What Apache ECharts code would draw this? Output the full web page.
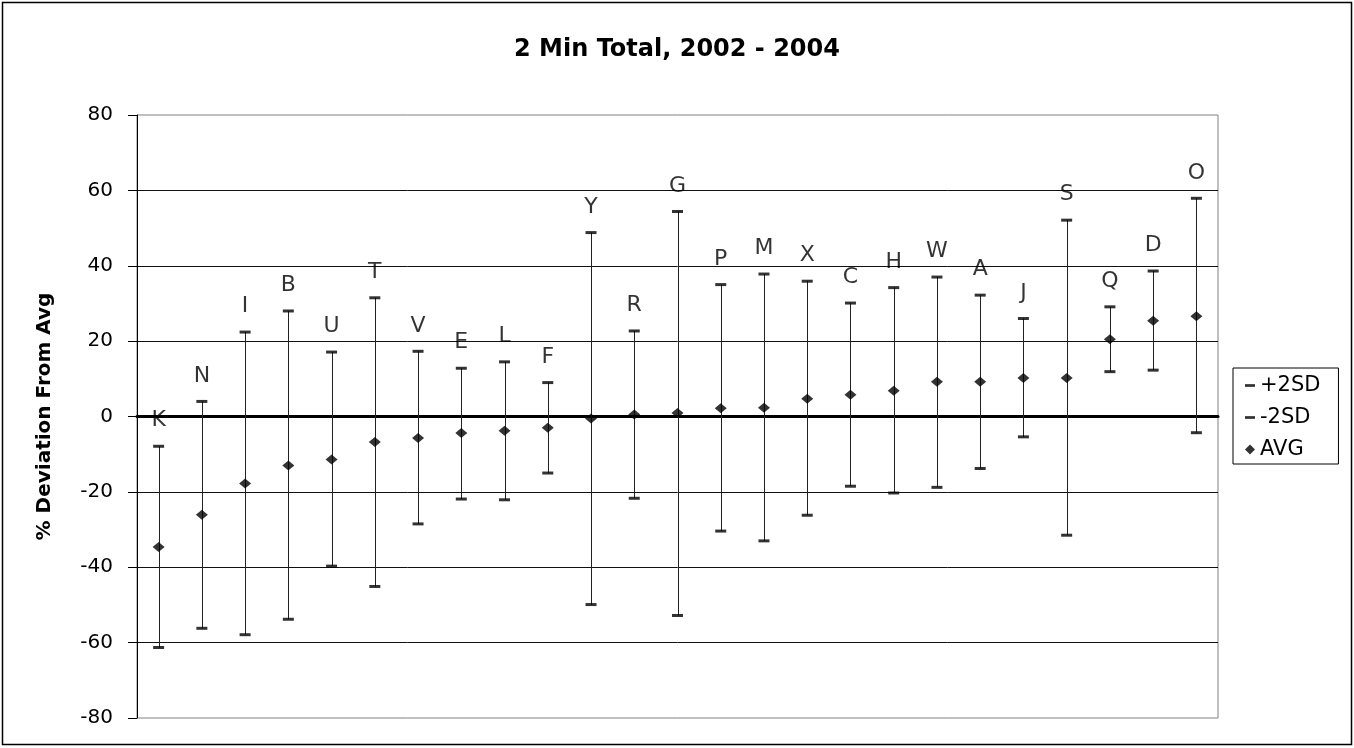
<!DOCTYPE html>
<html>
<head>
<meta charset="utf-8">
<script src="https://cdn.jsdelivr.net/npm/echarts@6/dist/echarts.min.js"></script>
<style>
html,body{margin:0;padding:0;background:#fff;}
#chart{width:1354px;height:748px;}
</style>
</head>
<body>
<div id="chart"></div>
<script>
const categories = ['K','N','I','B','U','T','V','E','L','F','Y','R','G','P','M','X','C','H','W','A','J','S','Q','D','O'];
const plus2SD = [-7.9, 4.0, 22.4, 28.0, 17.1, 31.5, 17.3, 12.8, 14.5, 9.0, 48.8, 22.7, 54.4, 35.0, 37.8, 35.9, 30.1, 34.2, 37.0, 32.2, 26.0, 52.1, 29.1, 38.6, 57.9];
const minus2SD = [-61.3, -56.2, -57.9, -53.8, -39.7, -45.1, -28.5, -21.9, -22.1, -15.0, -49.9, -21.7, -52.8, -30.4, -33.0, -26.2, -18.5, -20.3, -18.8, -13.8, -5.4, -31.5, 11.9, 12.3, -4.3];
const avgValues = [-34.6, -26.1, -17.8, -13.0, -11.4, -6.75, -5.7, -4.4, -3.8, -3.0, -0.5, 0.5, 0.9, 2.2, 2.3, 4.7, 5.8, 6.85, 9.2, 9.2, 10.2, 10.2, 20.5, 25.4, 26.6];
const yTicks = {min: -80, max: 80, interval: 20};

const FONT = '"DejaVu Sans", "Liberation Sans", Arial, sans-serif';
const chart = echarts.init(document.getElementById('chart'), null, {renderer: 'canvas'});

const dashPath = 'path://M0,0h11v3h-11z';

const option = {
  animation: false,
  backgroundColor: '#fff',
  title: {
    text: '2 Min Total, 2002 - 2004',
    left: 'center',
    top: 33,
    textStyle: {fontFamily: FONT, fontSize: 24, fontWeight: 'bold', color: '#000'}
  },
  grid: {left: 137, right: 136, top: 115, bottom: 30, show: true, borderColor: '#808080', borderWidth: 1, backgroundColor: 'transparent'},
  legend: {
    orient: 'vertical',
    left: 1233,
    top: 368,
    padding: [7, 18, 4, 12],
    itemGap: 11,
    itemWidth: 10,
    itemHeight: 10,
    itemTextGap: 12,
    borderColor: '#000',
    borderWidth: 1,
    borderRadius: 0,
    textStyle: {fontFamily: FONT, fontSize: 21, color: '#000'},
    data: [
      {name: '+2SD', icon: dashPath},
      {name: '-2SD', icon: dashPath},
      {name: 'AVG', icon: 'diamond'}
    ]
  },
  xAxis: {
    type: 'category',
    data: categories,
    boundaryGap: true,
    axisLine: {show: true, onZero: true, lineStyle: {color: '#000', width: 3}},
    axisTick: {show: false},
    axisLabel: {show: false},
    splitLine: {show: false}
  },
  yAxis: {
    type: 'value',
    min: yTicks.min,
    max: yTicks.max,
    interval: yTicks.interval,
    name: '% Deviation From Avg',
    nameLocation: 'middle',
    nameRotate: 90,
    nameGap: 82,
    nameTextStyle: {fontFamily: FONT, fontSize: 20, fontWeight: 'bold', color: '#000'},
    axisLine: {show: true, lineStyle: {color: '#000', width: 1}},
    axisTick: {show: true, inside: false, length: 9, lineStyle: {color: '#000'}},
    axisLabel: {fontFamily: FONT, fontSize: 20, color: '#000', margin: 24},
    splitLine: {show: true, showMinLine: false, showMaxLine: false, lineStyle: {color: '#111', width: 1}}
  },
  series: [
    {
      type: 'custom',
      silent: true,
      z: 1,
      encode: {x: 0, y: [1, 2]},
      data: categories.map((c, i) => [i, minus2SD[i], plus2SD[i]]),
      renderItem: function (params, api) {
        const i = api.value(0);
        const lo = api.coord([i, api.value(1)]);
        const hi = api.coord([i, api.value(2)]);
        const x = Math.round(lo[0]) + 0.5;
        return {
          type: 'line',
          shape: {x1: x, y1: lo[1], x2: x, y2: hi[1]},
          style: {stroke: '#222', lineWidth: 1}
        };
      }
    },
    {
      name: '+2SD',
      type: 'scatter',
      z: 3,
      symbol: dashPath,
      symbolSize: [11, 3],
      itemStyle: {color: '#000'},
      label: {
        show: true,
        position: 'top',
        distance: 13,
        fontFamily: FONT,
        fontSize: 22,
        color: '#000',
        formatter: p => categories[p.dataIndex]
      },
      data: plus2SD
    },
    {
      name: '-2SD',
      type: 'scatter',
      z: 3,
      symbol: dashPath,
      symbolSize: [11, 3],
      itemStyle: {color: '#000'},
      data: minus2SD
    },
    {
      name: 'AVG',
      type: 'scatter',
      z: 4,
      symbol: 'diamond',
      symbolSize: [12, 10],
      itemStyle: {color: '#000'},
      data: avgValues
    }
  ],
  graphic: [
    {
      type: 'rect',
      silent: true,
      z: 100,
      shape: {x: 2.5, y: 2.5, width: 1349, height: 742},
      style: {fill: 'none', stroke: '#000', lineWidth: 1.5}
    }
  ]
};
chart.setOption(option);
</script>
</body>
</html>
